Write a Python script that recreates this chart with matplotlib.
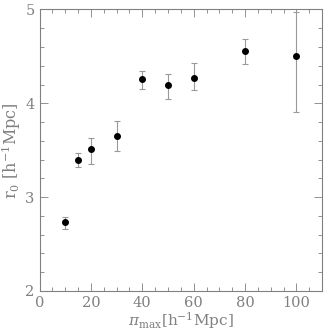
import matplotlib as mpl
mpl.use('Agg')
import matplotlib.pyplot as plt
from matplotlib.ticker import MultipleLocator

pi_max = [10, 15, 20, 30, 40, 50, 60, 80, 100]
r0 = [2.73, 3.40, 3.51, 3.65, 4.26, 4.20, 4.27, 4.56, 4.50]
err_lo = [0.07, 0.08, 0.16, 0.16, 0.11, 0.15, 0.13, 0.14, 0.59]
err_hi = [0.06, 0.07, 0.12, 0.16, 0.08, 0.11, 0.16, 0.12, 0.47]

plt.rcParams['font.family'] = 'DejaVu Serif'
plt.rcParams['mathtext.fontset'] = 'dejavuserif'
grey = '#808080'

fig = plt.figure(figsize=(3.27, 3.32), dpi=100)
ax = fig.add_axes([0.121, 0.1235, 0.864, 0.848])
ax.errorbar(pi_max, r0, yerr=[err_lo, err_hi], fmt='o', color='black', ms=4,
            ecolor='#999999', elinewidth=0.8, capsize=2.5, capthick=0.8)
ax.set_xlim(0, 110)
ax.set_ylim(2, 5)
ax.xaxis.set_major_locator(MultipleLocator(20))
ax.xaxis.set_minor_locator(MultipleLocator(5))
ax.yaxis.set_major_locator(MultipleLocator(1))
ax.yaxis.set_minor_locator(MultipleLocator(0.2))
ax.tick_params(which='both', direction='in', top=True, right=True, colors=grey,
               labelcolor=grey, labelsize=10.5, width=0.6)
ax.tick_params(which='major', length=6)
ax.tick_params(which='minor', length=3)
for s in ax.spines.values():
    s.set_color(grey)
    s.set_linewidth(0.8)
ax.set_xlabel(r'$\pi_{\rm max}$[h$^{-1}$Mpc]', color=grey, fontsize=11, labelpad=0)
ax.set_ylabel(r'r$_0$ [h$^{-1}$Mpc]', color=grey, fontsize=11.5, labelpad=2)
plt.savefig('out.png', dpi=100)
plt.close()
